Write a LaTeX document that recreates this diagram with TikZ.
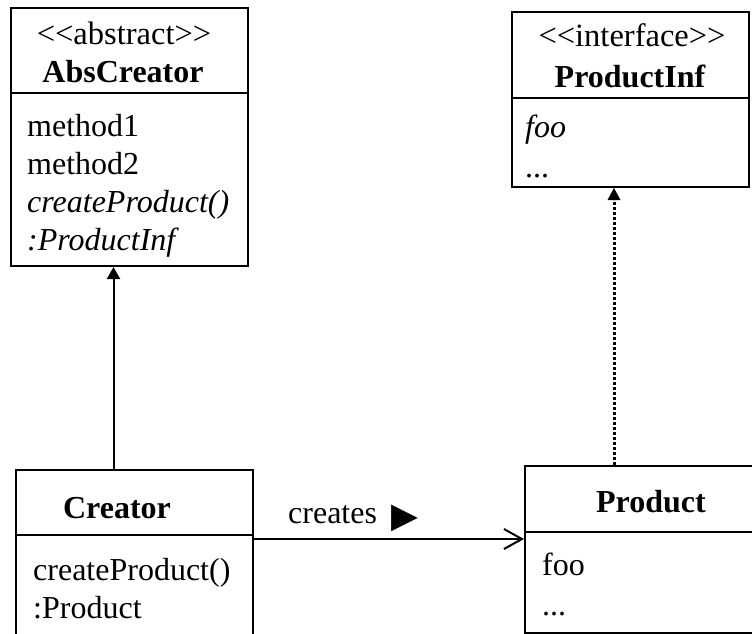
\documentclass[tikz,border=0pt]{standalone}
\usepackage{fontspec}
\setmainfont{Liberation Serif}
\newfontfamily\symfont{DejaVu Sans}
\usetikzlibrary{arrows.meta}
\begin{document}
\begin{tikzpicture}[x=1pt,y=-1pt,
  box/.style={draw,line width=2pt,rectangle,inner sep=0pt,anchor=north west},
  divider/.style={line width=2pt},
  txt/.style={inner sep=0pt,font=\fontsize{32}{38}\selectfont},
  stereo/.style={inner sep=0pt,font=\fontsize{32.5}{38}\selectfont,anchor=base},
  title/.style={inner sep=0pt,font=\fontsize{32}{38}\selectfont\bfseries,anchor=base},
  item/.style={txt,anchor=base west},
  conn/.style={line width=2pt},
  inherit/.style={conn,-{Triangle[length=12pt,width=13pt]}},
  realize/.style={line width=3pt,dash pattern=on 3pt off 2pt,-{Triangle[length=12pt,width=13pt,line width=0pt]}},
  assoc/.style={conn,-{Straight Barb[length=18pt,width=20pt,line width=2pt]}}
]
\useasboundingbox (0,0) rectangle (752,634);

% AbsCreator
\node[box,minimum width=237pt,minimum height=258pt] (absc) at (10,7) {};
\draw[divider] (absc.north west) ++(0,86) -- ++(237,0);
\node[stereo] (abscst) at (124,45) {<{}<abstract>{}>};
\node[title] (absctt) at (123,82) {AbsCreator};
\node[item] (m1) at (27,136) {method1};
\node[item] (m2) at (27,174) {method2};
\node[item,font=\fontsize{32}{38}\selectfont\itshape] (m3) at (27,212) {createProduct()};
\node[item,font=\fontsize{32}{38}\selectfont\itshape] (m4) at (27,250) {:ProductInf};

% ProductInf
\node[box,minimum width=237pt,minimum height=175pt] (pinf) at (511,11) {};
\draw[divider] (pinf.north west) ++(0,87) -- ++(237,0);
\node[stereo] (pinfst) at (632,47) {<{}<interface>{}>};
\node[title] (pinftt) at (630,87) {ProductInf};
\node[item,font=\fontsize{32}{38}\selectfont\itshape] (pf1) at (525,137) {foo};
\node[item] (pf2) at (525,177) {...};

% Creator
\node[box,minimum width=237pt,minimum height=180pt] (creator) at (15,469) {};
\draw[divider] (creator.north west) ++(0,66) -- ++(237,0);
\node[title] (creatortt) at (117,518) {Creator};
\node[item] (c1) at (33,580) {createProduct()};
\node[item] (c2) at (33,618) {:Product};

% Product
\node[box,minimum width=245pt,minimum height=167pt] (product) at (524,465) {};
\draw[divider] (product.north west) ++(0,67) -- ++(245,0);
\node[title] (producttt) at (651,512) {Product};
\node[item] (p1) at (542,575) {foo};
\node[item] (p2) at (542,615) {...};

% connectors
\path (creator.north west) ++(98.5,0) coordinate (cUp);
\draw[inherit] (cUp) -- (cUp |- absc.south);
\path (product.north west) ++(90,0) coordinate (pUp);
\draw[realize] (pUp) -- (pUp |- pinf.south);
\path (creator.north east) ++(0,70) coordinate (cR);
\draw[assoc] (cR) -- (cR -| product.west);
\node[item] (creates) at (288,523) {creates\hspace{14pt}\raisebox{-4pt}{\symfont\fontsize{35}{40}\selectfont ▶}};
\end{tikzpicture}
\end{document}
